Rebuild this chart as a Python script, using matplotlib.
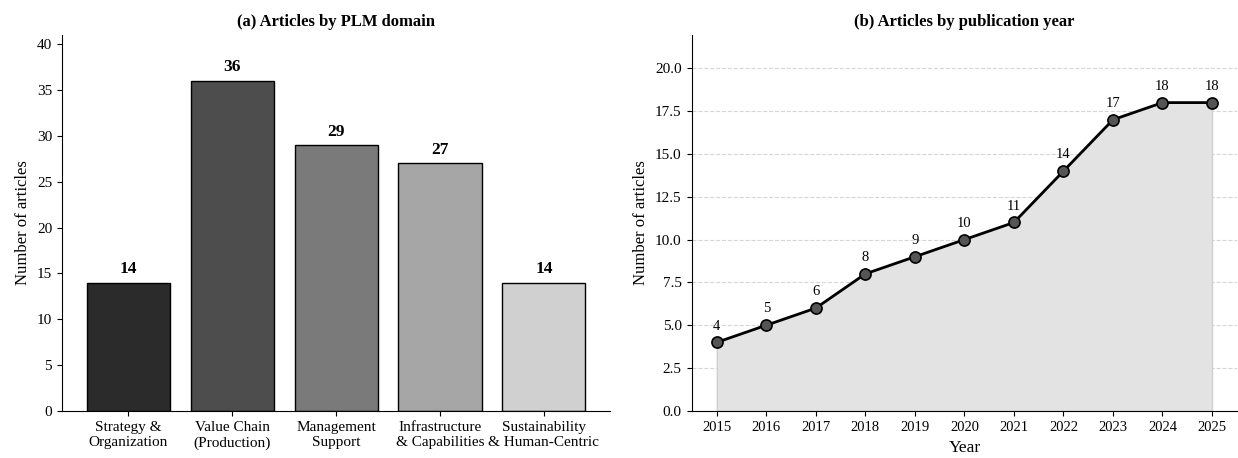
import matplotlib

matplotlib.use("Agg")
import matplotlib.pyplot as plt
import numpy as np

plt.rcParams["font.family"] = ["Liberation Serif", "DejaVu Serif"]

# (a) articles per PLM domain
domains = ["Strategy &\nOrganization", "Value Chain\n(Production)", "Management\nSupport",
           "Infrastructure\n& Capabilities", "Sustainability\n& Human-Centric"]
domain_counts = [14, 36, 29, 27, 14]
domain_colors = ["#2b2b2b", "#4d4d4d", "#7a7a7a", "#a6a6a6", "#d0d0d0"]

# (b) articles per publication year
years = [2015, 2016, 2017, 2018, 2019, 2020, 2021, 2022, 2023, 2024, 2025]
year_counts = [4, 5, 6, 8, 9, 10, 11, 14, 17, 18, 18]

fig = plt.figure(figsize=(12.38, 4.58), dpi=100)
ax1 = fig.add_axes([0.050, 0.103, 0.443, 0.821])
ax2 = fig.add_axes([0.559, 0.103, 0.440, 0.821])

# --- bars
x = np.arange(len(domains))
ax1.bar(x, domain_counts, width=0.8, color=domain_colors, edgecolor="black", linewidth=1)
for i, c in enumerate(domain_counts):
    ax1.text(i, c + 0.6, str(c), ha="center", va="bottom", fontsize=12.5, fontweight="bold")
ax1.set_xticks(x)
ax1.set_xticklabels(domains, fontsize=11)
ax1.tick_params(axis="x", pad=4)
ax1.set_ylim(0, max(domain_counts) * 1.14)
ax1.set_ylabel("Number of articles", fontsize=12)
ax1.set_title("(a) Articles by PLM domain", fontsize=12, fontweight="bold", pad=6)
ax1.tick_params(axis="y", labelsize=11)
ax1.spines[["top", "right"]].set_visible(False)

# --- line
ax2.fill_between(years, year_counts, color="#e3e3e3", edgecolor="#d0d0d0", linewidth=1)
ax2.plot(years, year_counts, color="black", linewidth=2, marker="o", markersize=8,
         markerfacecolor="#555555", markeredgecolor="black", markeredgewidth=1.2, zorder=3)
for yr, c in zip(years, year_counts):
    ax2.annotate(str(c), (yr, c), textcoords="offset points", xytext=(0, 7),
                 ha="center", va="bottom", fontsize=10.5)
ax2.set_xticks(years)
ax2.set_xlim(years[0] - 0.5, years[-1] + 0.5)
ax2.set_ylim(0, max(year_counts) * 1.22)
ax2.set_yticks(np.arange(0, 20.1, 2.5))
ax2.yaxis.set_major_formatter(matplotlib.ticker.FormatStrFormatter("%.1f"))
ax2.tick_params(labelsize=10.5, pad=4)
ax2.tick_params(axis="y", labelsize=11)
ax2.grid(axis="y", linestyle="--", color="#cccccc", alpha=0.8)
ax2.set_axisbelow(True)
ax2.set_xlabel("Year", fontsize=12.5, labelpad=4)
ax2.set_ylabel("Number of articles", fontsize=12)
ax2.set_title("(b) Articles by publication year", fontsize=12, fontweight="bold", pad=6)
ax2.spines[["top", "right"]].set_visible(False)

fig.savefig("out.png", dpi=100)
